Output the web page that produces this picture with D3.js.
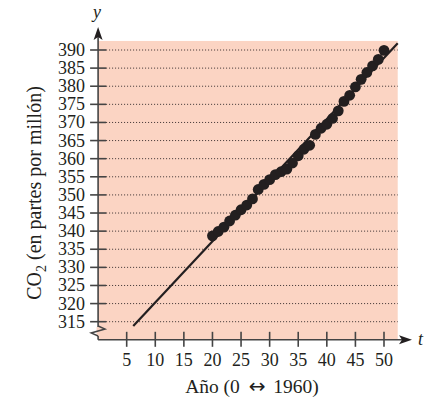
<!DOCTYPE html>
<html><head><meta charset="utf-8">
<script src="https://cdn.jsdelivr.net/npm/d3@7"></script>
<style>html,body{margin:0;padding:0;background:#fff;}svg{display:block;}</style>
</head><body>
<svg id="c" width="428" height="399"></svg>
<script>
const years = [20,21,22,23,24,25,26,27,28,29,30,31,32,33,34,35,36,37,38,39,40,41,42,43,44,45,46,47,48,49,50];
const co2 = [338.7,339.9,341.1,342.8,344.4,345.9,347.2,348.9,351.5,352.9,354.2,355.6,356.4,357.1,358.8,360.8,362.6,363.7,366.7,368.4,369.5,371.1,373.2,375.8,377.5,379.8,381.9,383.8,385.6,387.4,389.9];
const xTicks = [5,10,15,20,25,30,35,40,45,50];
const yTicks = [315,320,325,330,335,340,345,350,355,360,365,370,375,380,385,390];
const model = {slope: 1.688, intercept: 303.4, tStart: 6.15, tEnd: 52.4};
const xTitle = ["Año (0 ", "\u2194", " 1960)"];
const yTitle = ["CO", "2", " (en partes por millón)"];

const svg = d3.select("#c");
const ink = "#231f20";
const font = "'Liberation Serif','Times New Roman',serif";
const x = d3.scaleLinear().domain([0,50]).range([98.1,384]);
const y = d3.scaleLinear().domain([315,390]).range([321.7,50]);
const xMax = 52.4, yTop = 392.5, yBot = 310;

// background
svg.append("rect").attr("x", x(0)).attr("y", y(yTop)).attr("width", x(xMax)-x(0)).attr("height", y(yBot)-y(yTop)).attr("fill", "#fbd4c3");

// gridlines
svg.append("g").selectAll("line").data(yTicks).join("line")
  .attr("x1", x(0)+8).attr("x2", x(xMax)).attr("y1", d=>y(d)).attr("y2", d=>y(d))
  .attr("stroke", "#3a3030").attr("stroke-width", 1).attr("stroke-dasharray", "1,2");

// regression line
svg.append("line")
  .attr("x1", x(model.tStart)).attr("y1", y(model.slope*model.tStart+model.intercept))
  .attr("x2", x(model.tEnd)).attr("y2", y(model.slope*model.tEnd+model.intercept))
  .attr("stroke", ink).attr("stroke-width", 2.2);

// points
svg.append("g").selectAll("circle").data(years.map((t,i)=>[t,co2[i]])).join("circle")
  .attr("cx", d=>x(d[0])).attr("cy", d=>y(d[1])).attr("r", 5.4).attr("fill", ink);

// axes
const y0 = y(yBot), x0 = x(0);
svg.append("line").attr("x1", x0).attr("x2", 404).attr("y1", y0).attr("y2", y0).attr("stroke", "#444").attr("stroke-width", 1.6);
svg.append("path").attr("d", `M412,${y0} L399,${y0-4.5} L402,${y0} L399,${y0+4.5} Z`).attr("fill", ink);
svg.append("line").attr("x1", x0).attr("x2", x0).attr("y1", y0).attr("y2", 34).attr("stroke", "#444").attr("stroke-width", 1.6);
svg.append("path").attr("d", `M${x0},27 L${x0-4.5},40 L${x0},37 L${x0+4.5},40 Z`).attr("fill", ink);

// break symbol
svg.append("rect").attr("x", x0-1.5).attr("y", 327).attr("width", 3).attr("height", 9).attr("fill", "#fbd4c3");
svg.append("path").attr("d", `M${x0},326 L${x0+7},329 L${x0-7},333 L${x0},336`).attr("fill","none").attr("stroke", "#444").attr("stroke-width", 1.4);

// y ticks
const gy = svg.append("g");
gy.selectAll("line").data(yTicks).join("line")
  .attr("x1", x0-8).attr("x2", x0+8).attr("y1", d=>y(d)).attr("y2", d=>y(d)).attr("stroke", "#444").attr("stroke-width", 1.6);
gy.selectAll("text").data(yTicks).join("text")
  .attr("x", 85).attr("y", d=>y(d)+6).attr("text-anchor", "end")
  .attr("font-family", font).attr("font-size", 18).attr("fill", ink).text(d=>d);

// x ticks
const gx = svg.append("g");
gx.selectAll("line").data(xTicks).join("line")
  .attr("x1", d=>x(d)).attr("x2", d=>x(d)).attr("y1", y0-8).attr("y2", y0+7).attr("stroke", "#444").attr("stroke-width", 1.6);
gx.selectAll("text").data(xTicks).join("text")
  .attr("x", d=>x(d)).attr("y", 366).attr("text-anchor", "middle")
  .attr("font-family", font).attr("font-size", 18).attr("fill", ink).text(d=>d);

// axis letters
svg.append("text").attr("x", 97).attr("y", 18).attr("text-anchor","middle").attr("font-family", font).attr("font-style","italic").attr("font-size", 18).attr("fill", ink).text("y");
svg.append("text").attr("x", 418).attr("y", 345).attr("font-family", font).attr("font-style","italic").attr("font-size", 18).attr("fill", ink).text("t");

// titles
const xt = svg.append("text").attr("x", 252).attr("y", 393).attr("text-anchor","middle").attr("font-family", font).attr("font-size", 19.5).attr("fill", ink);
xt.append("tspan").text(xTitle[0]);
xt.append("tspan").attr("dx", 4).attr("font-family", "'DejaVu Sans',sans-serif").attr("font-size", 20).text(xTitle[1]);
xt.append("tspan").attr("dx", 3).text(xTitle[2]);
const yt = svg.append("text").attr("transform", "translate(41,193) rotate(-90)").attr("text-anchor","middle")
  .attr("font-family", font).attr("font-size", 20).attr("fill", ink);
yt.append("tspan").text(yTitle[0]);
yt.append("tspan").attr("dy", 5).attr("font-size", 14).text(yTitle[1]);
yt.append("tspan").attr("dy", -5).text(yTitle[2]);
</script>
</body></html>
